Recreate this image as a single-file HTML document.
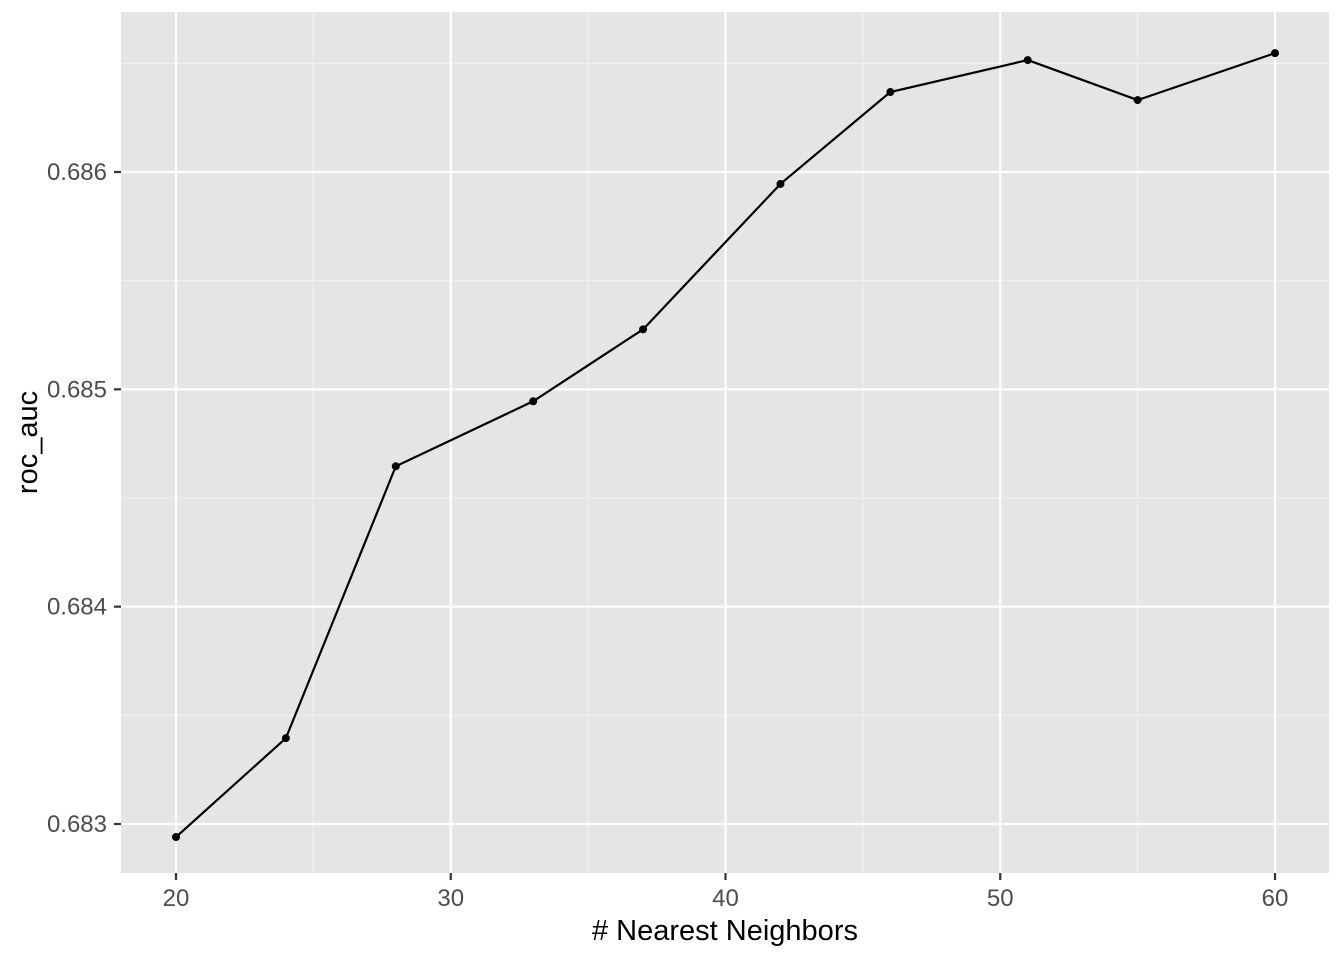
<!DOCTYPE html>
<html><head><meta charset="utf-8"><style>
html,body{margin:0;padding:0;background:#fff;}
svg{display:block;font-family:"Liberation Sans",Arial,sans-serif;}
</style></head><body>
<svg id="chart" width="1344" height="960"></svg>
<script>
const xValues=[20,24,28,33,37,42,46,51,55,60];
const yValues=[0.68294,0.683395,0.684646,0.684945,0.685276,0.685945,0.686368,0.686515,0.686331,0.686547];
const xTicks=[20,30,40,50,60];
const yTicks=[0.683,0.684,0.685,0.686];
const xMinor=[25,35,45,55];
const yMinor=[0.6825,0.6835,0.6845,0.6855,0.6865];

const NS="http://www.w3.org/2000/svg";
const svg=document.getElementById('chart');
const P={l:121,r:1329,t:12,b:873};
function sx(v){return 176+(v-20)*(1275-176)/40;}
function sy(v){return 824+(v-0.683)*(172-824)/0.003;}
function el(t,a,p){const e=document.createElementNS(NS,t);for(const k in a)e.setAttribute(k,a[k]);(p||svg).appendChild(e);return e;}

const bg=el('rect',{x:P.l,y:P.t,width:P.r-P.l,height:P.b-P.t,fill:'#e5e5e5'});



xMinor.forEach(v=>{const g=el('line',{x1:sx(v),x2:sx(v),y1:P.t,y2:P.b,stroke:'#f2f2f2','stroke-width':1.1});

});
yMinor.forEach(v=>{const y=sy(v);if(y<P.t||y>P.b)return;const g=el('line',{x1:P.l,x2:P.r,y1:y,y2:y,stroke:'#f2f2f2','stroke-width':1.1});

});
xTicks.forEach(v=>{const g=el('line',{x1:sx(v),x2:sx(v),y1:P.t,y2:P.b,stroke:'#fff','stroke-width':2.2});


const tk=el('line',{x1:sx(v),x2:sx(v),y1:P.b,y2:P.b+7,stroke:'#333','stroke-width':2.2});


const t=el('text',{x:sx(v),y:906,'text-anchor':'middle','font-size':24,fill:'#4d4d4d'});t.textContent=v;

});
yTicks.forEach(v=>{const g=el('line',{x1:P.l,x2:P.r,y1:sy(v),y2:sy(v),stroke:'#fff','stroke-width':2.2});


const tk=el('line',{x1:P.l-7,x2:P.l,y1:sy(v),y2:sy(v),stroke:'#333','stroke-width':2.2});


const t=el('text',{x:107,y:sy(v)+8,'text-anchor':'end','font-size':24,fill:'#4d4d4d'});t.textContent=v.toFixed(3);

});

const line=el('polyline',{points:xValues.map((x,i)=>sx(x)+','+sy(yValues[i])).join(' '),fill:'none',stroke:'#000','stroke-width':2.2});


xValues.forEach((x,i)=>{const c=el('circle',{cx:sx(x),cy:sy(yValues[i]),r:4,fill:'#000'});

});

const xt=el('text',{x:(P.l+P.r)/2,y:940,'text-anchor':'middle','font-size':29,fill:'#000'});xt.textContent='# Nearest Neighbors';


const yt=el('text',{x:0,y:0,'text-anchor':'middle','font-size':29,fill:'#000',transform:'translate(37,'+((P.t+P.b)/2)+') rotate(-90)'});yt.textContent='roc_auc';


</script>
</body></html>
